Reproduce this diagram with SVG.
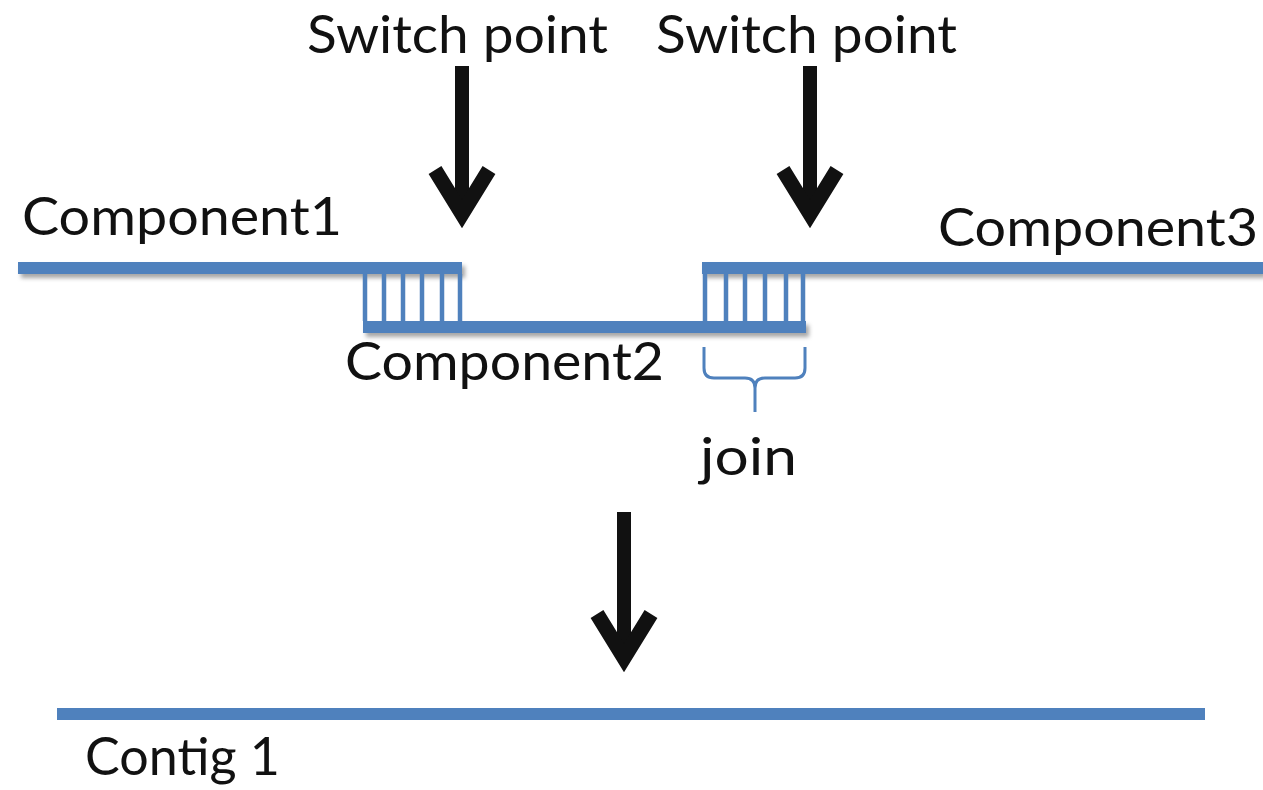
<svg xmlns="http://www.w3.org/2000/svg" width="1263" height="790" viewBox="0 0 1263 790">
  <defs>
    <filter id="soft-shadow" x="-5%" y="-60%" width="110%" height="260%">
      <feDropShadow dx="3" dy="4" stdDeviation="2.2" flood-color="#000" flood-opacity="0.35"/>
    </filter>
  </defs>
  <style>
    .strand { fill: #4f81bd; }
    .rung { stroke: #4f81bd; stroke-width: 4.5; fill: none; }
    .brace { stroke: #4f81bd; stroke-width: 3; fill: none; }
    .shaft { stroke: #111; stroke-width: 14; fill: none; }
    .head { stroke: #111; stroke-width: 15; fill: none; stroke-linejoin: miter; stroke-miterlimit: 6; }
    .label { font-family: Lato, "Open Sans", "Liberation Sans", sans-serif; font-size: 52px; fill: #111; }
  </style>
  <rect width="1263" height="790" fill="#fff"/>

  <!-- component strands -->
  <g id="component1">
    <rect class="strand" x="18" y="262" width="444" height="12" filter="url(#soft-shadow)"/>
    <text class="label" x="22" y="235" textLength="320" lengthAdjust="spacingAndGlyphs">Component1</text>
  </g>
  <g id="component2">
    <rect class="strand" x="363" y="321" width="443" height="12" filter="url(#soft-shadow)"/>
    <text class="label" x="345" y="380" textLength="319" lengthAdjust="spacingAndGlyphs">Component2</text>
  </g>
  <g id="component3">
    <rect class="strand" x="702" y="262" width="561" height="12" filter="url(#soft-shadow)"/>
    <text class="label" x="938" y="246" textLength="320" lengthAdjust="spacingAndGlyphs">Component3</text>
  </g>

  <!-- base pairing between overlapping strands -->
  <g id="overlap-left">
    <path class="rung" d="M365,274V321 M384,274V321 M403,274V321 M422,274V321 M442,274V321 M460,274V321"/>
  </g>
  <g id="overlap-right">
    <path class="rung" d="M705,274V321 M726,274V321 M745,274V321 M765,274V321 M786,274V321 M803,274V321"/>
  </g>

  <!-- join bracket -->
  <g id="join">
    <path class="brace" d="M704,347V368Q704,378 714,378H745Q755,378 755,388V412M755,388Q755,378 765,378H795Q805,378 805,368V347"/>
    <text class="label" x="700" y="475" textLength="97" lengthAdjust="spacingAndGlyphs">join</text>
  </g>

  <!-- switch point labels -->
  <g id="switch-point-1">
    <text class="label" x="307" y="53" textLength="301" lengthAdjust="spacingAndGlyphs">Switch point</text>
  </g>
  <g id="switch-point-2">
    <text class="label" x="656" y="53" textLength="301" lengthAdjust="spacingAndGlyphs">Switch point</text>
  </g>

  <!-- resulting contig -->
  <g id="contig1">
    <rect class="strand" x="57" y="708" width="1148" height="12"/>
    <text class="label" x="85" y="775" textLength="195" lengthAdjust="spacingAndGlyphs">Contig 1</text>
  </g>

  <!-- arrows -->
  <g id="connectors">
    <line class="shaft" x1="462" y1="66" x2="462" y2="212"/>
    <polyline class="head" points="435,170 462,214 489,170"/>
    <line class="shaft" x1="810" y1="66" x2="810" y2="212"/>
    <polyline class="head" points="783,170 810,214 837,170"/>
    <line class="shaft" x1="624" y1="512" x2="624" y2="656"/>
    <polyline class="head" points="597,614 624,658 651,614"/>
  </g>
</svg>
